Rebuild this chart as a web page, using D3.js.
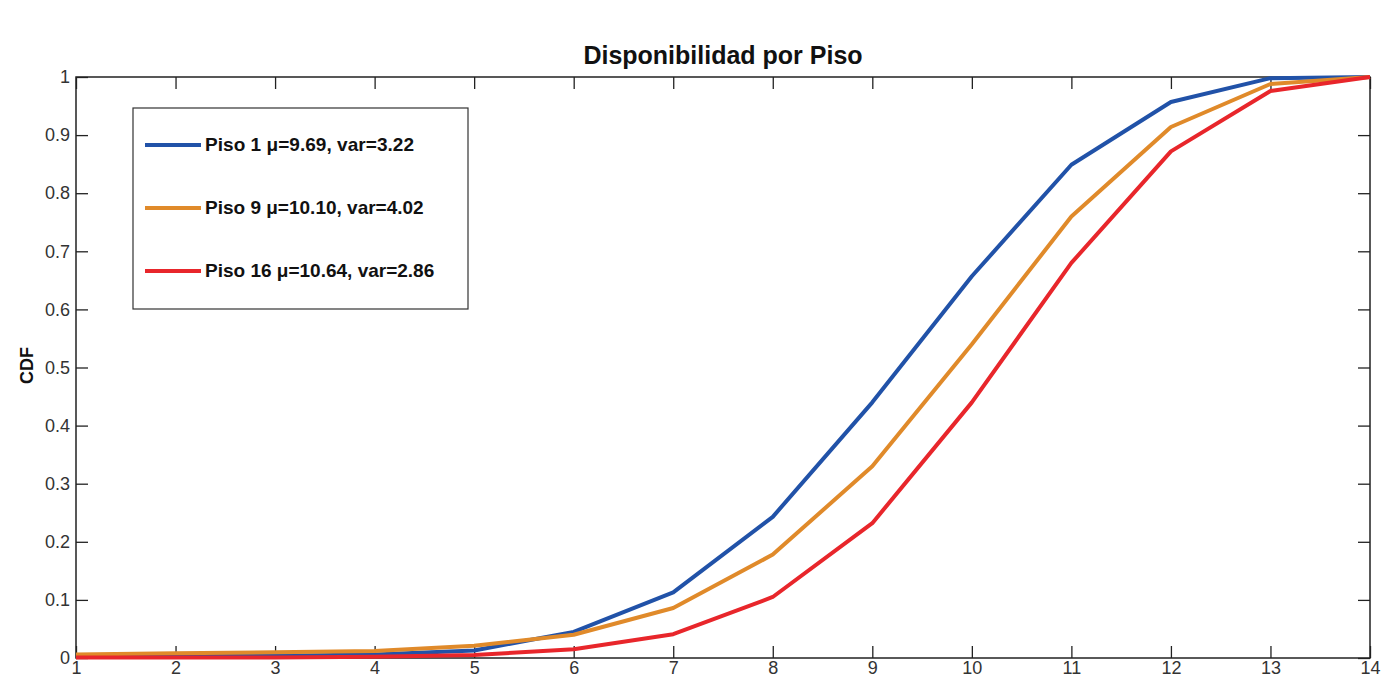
<!DOCTYPE html>
<html>
<head>
<meta charset="utf-8">
<script src="https://cdn.jsdelivr.net/npm/d3@7"></script>
<style>
  body { margin: 0; background: #fff; }
  svg text { font-family: "Liberation Sans", Arial, sans-serif; }
</style>
</head>
<body>
<div id="chart"></div>
<script>
// values (CDF per floor)
const xValues = [1, 2, 3, 4, 5, 6, 7, 8, 9, 10, 11, 12, 13, 14];
const piso1  = [0.003, 0.003, 0.004, 0.006, 0.013, 0.045, 0.113, 0.243, 0.44, 0.657, 0.849, 0.957, 0.998, 1];
const piso9  = [0.006, 0.008, 0.01, 0.012, 0.021, 0.04, 0.086, 0.178, 0.33, 0.54, 0.76, 0.914, 0.988, 1];
const piso16 = [0.001, 0.001, 0.001, 0.002, 0.005, 0.015, 0.041, 0.105, 0.232, 0.44, 0.68, 0.872, 0.976, 1];
const seriesNames = ["Piso 1 \u03bc=9.69, var=3.22", "Piso 9 \u03bc=10.10, var=4.02", "Piso 16 \u03bc=10.64, var=2.86"];
const seriesColors = ["#2152a8", "#e08a2a", "#e8262b"];
const yTicks = [0, 0.1, 0.2, 0.3, 0.4, 0.5, 0.6, 0.7, 0.8, 0.9, 1];

const W = 1387, H = 682;
const margin = {top: 77, right: 17, bottom: 24, left: 76};
const width = W - margin.left - margin.right,
      height = H - margin.top - margin.bottom;

const svg = d3.select("#chart").append("svg")
    .attr("width", W).attr("height", H);
const g = svg.append("g")
    .attr("transform", "translate(" + margin.left + "," + margin.top + ")");

const x = d3.scaleLinear().domain([1, 14]).range([0, width]);
const y = d3.scaleLinear().domain([0, 1]).range([height, 0]);

// axes with inward ticks (matlab style)
const tickLen = 12;
const xb = g.append("g").attr("transform", "translate(0," + height + ")")
    .call(d3.axisBottom(x).tickValues(xValues).tickSizeInner(-tickLen).tickSizeOuter(0).tickPadding(3).tickFormat(d3.format("d")));
const xt = g.append("g")
    .call(d3.axisTop(x).tickValues(xValues).tickSizeInner(-tickLen).tickSizeOuter(0).tickFormat(""));
const yl = g.append("g")
    .call(d3.axisLeft(y).tickValues(yTicks).tickSizeInner(-tickLen).tickSizeOuter(0).tickPadding(6).tickFormat(d => d === 0 || d === 1 ? d : d3.format(".1f")(d)));
const yr = g.append("g").attr("transform", "translate(" + width + ",0)")
    .call(d3.axisRight(y).tickValues(yTicks).tickSizeInner(-tickLen).tickSizeOuter(0).tickFormat(""));

[xb, xt, yl, yr].forEach(a => {
    a.select(".domain").remove();
    a.selectAll("line").attr("stroke", "#222").attr("stroke-width", 1.3);
    a.selectAll("text").attr("fill", "#333").style("font-size", "18px");
});

// plot box
g.append("rect").attr("width", width).attr("height", height)
    .attr("fill", "none").attr("stroke", "#222").attr("stroke-width", 1.5);

// lines
const line = d3.line().x((d, i) => x(xValues[i])).y(d => y(d));
[piso1, piso9, piso16].forEach((s, i) => {
    g.append("path").datum(s)
        .attr("d", line)
        .attr("fill", "none")
        .attr("stroke", seriesColors[i])
        .attr("stroke-width", 4)
        .attr("stroke-linejoin", "round");
});

// legend
const lg = svg.append("g").attr("transform", "translate(133,108)");
lg.append("rect").attr("width", 335).attr("height", 201)
    .attr("fill", "#fff").attr("stroke", "#333").attr("stroke-width", 1.2);
seriesNames.forEach((name, i) => {
    const ly = 37 + i * 63;
    lg.append("line").attr("x1", 12).attr("x2", 68).attr("y1", ly).attr("y2", ly)
        .attr("stroke", seriesColors[i]).attr("stroke-width", 4);
    lg.append("text").attr("x", 72).attr("y", ly + 6)
        .style("font-size", "19px").style("font-weight", "bold")
        .attr("textLength", i === 0 ? 209 : null)
        .attr("fill", "#111").text(name);
});

// title
svg.append("text").attr("x", margin.left + width / 2).attr("y", 64)
    .attr("text-anchor", "middle").style("font-size", "25px").style("font-weight", "bold")
    .attr("fill", "#111").text("Disponibilidad por Piso");

// y label
svg.append("text").attr("transform", "translate(33," + (margin.top + height / 2 - 2) + ") rotate(-90)")
    .attr("text-anchor", "middle").style("font-size", "18px").style("font-weight", "bold")
    .attr("fill", "#111").text("CDF");
</script>
</body>
</html>
